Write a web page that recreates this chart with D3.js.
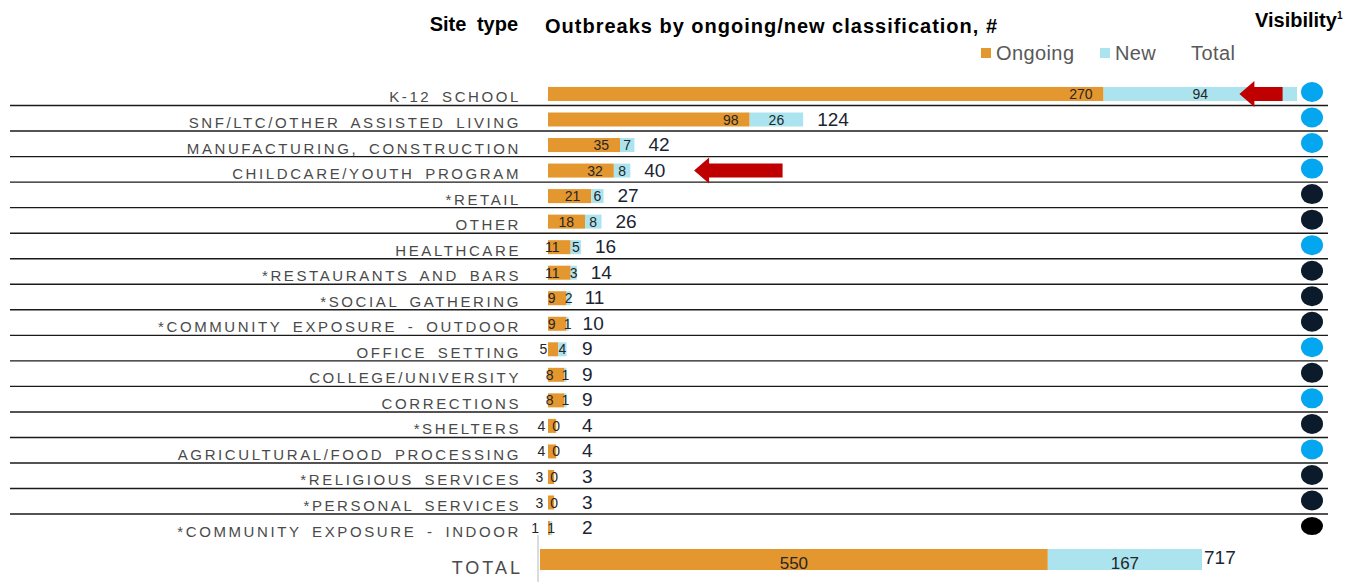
<!DOCTYPE html>
<meta charset="utf-8">
<head>
<script src="https://cdn.jsdelivr.net/npm/d3@7"></script>
<style>
  body { margin: 0; background: #fff; }
  svg { font-family: "Liberation Sans", Arial, sans-serif; display: block; }
</style>
</head>
<body>
<div id="outbreaks"></div>
<script>
  // site types, top to bottom
  const sites = [
    "K-12 SCHOOL", "SNF/LTC/OTHER ASSISTED LIVING", "MANUFACTURING, CONSTRUCTION",
    "CHILDCARE/YOUTH PROGRAM", "*RETAIL", "OTHER", "HEALTHCARE", "*RESTAURANTS AND BARS",
    "*SOCIAL GATHERING", "*COMMUNITY EXPOSURE - OUTDOOR", "OFFICE SETTING",
    "COLLEGE/UNIVERSITY", "CORRECTIONS", "*SHELTERS", "AGRICULTURAL/FOOD PROCESSING",
    "*RELIGIOUS SERVICES", "*PERSONAL SERVICES", "*COMMUNITY EXPOSURE - INDOOR"
  ];
  const ongoing = [270, 98, 35, 32, 21, 18, 11, 11, 9, 9, 5, 8, 8, 4, 4, 3, 3, 1];
  const newer   = [94, 26, 7, 8, 6, 8, 5, 3, 2, 1, 4, 1, 1, 0, 0, 0, 0, 1];
  // K-12 total is hidden behind the arrow in the source
  const totals  = [null, 124, 42, 40, 27, 26, 16, 14, 11, 10, 9, 9, 9, 4, 4, 3, 3, 2];
  // visibility marker: "high" = light blue, "low" = dark, "none" = black
  const visibility = ["high", "high", "high", "high", "low", "low", "high", "low", "low",
    "low", "high", "low", "high", "low", "high", "low", "low", "none"];
  const grandTotal = {ongoing: 550, newer: 167, total: 717};
  // arrows pointing at rows: [site, tip value, tail value]
  const arrows = [["K-12 SCHOOL", 336, 357], ["CHILDCARE/YOUTH PROGRAM", 71, 114]];

  const ORANGE = "#e4962f", CYAN = "#abe4ee", RED = "#c00000";
  const visColor = {high: "#05a6f0", low: "#0c1b2b", none: "#000"};

  const W = 1348, H = 582;
  const svg = d3.select("#outbreaks").append("svg")
    .attr("width", W).attr("height", H);

  const y = d3.scaleBand().domain(sites).range([81.2, 540.8]);
  const x = d3.scaleLinear().domain([0, 364]).range([548, 1297]);
  const xTot = d3.scaleLinear().domain([0, grandTotal.total]).range([540, 1202]);
  const barH = 14;
  const mid = d => y(d) + y.bandwidth() / 2;

  // headers
  svg.append("text").attr("x", 518).attr("y", 31).attr("text-anchor", "end")
    .attr("font-size", 20).attr("font-weight", "bold").attr("word-spacing", 5)
    .text("Site type");
  svg.append("text").attr("x", 545).attr("y", 33)
    .attr("font-size", 20).attr("font-weight", "bold")
    .attr("textLength", 452).attr("lengthAdjust", "spacing")
    .text("Outbreaks by ongoing/new classification, #");
  const vis = svg.append("text").attr("x", 1255).attr("y", 27)
    .attr("font-size", 20).attr("font-weight", "bold").text("Visibility");
  vis.append("tspan").attr("font-size", 10).attr("dy", -8).text("1");

  // legend
  const legend = [["Ongoing", ORANGE, 981], ["New", CYAN, 1100], ["Total", null, 1191]];
  legend.forEach(([name, col, lx]) => {
    if (col) svg.append("rect").attr("x", lx).attr("y", 48).attr("width", 10).attr("height", 10).attr("fill", col);
    svg.append("text").attr("x", col ? lx + 15 : lx).attr("y", 60)
      .attr("font-size", 20).attr("letter-spacing", 0.4).attr("fill", "#595959").text(name);
  });

  // row separators
  svg.selectAll("line.sep").data(sites.slice(0, -1)).join("line")
    .attr("class", "sep")
    .attr("x1", 10).attr("x2", 1328)
    .attr("y1", d => y(d) + y.bandwidth() - 1.2).attr("y2", d => y(d) + y.bandwidth() - 1.2)
    .attr("stroke", "#1a1a1a").attr("stroke-width", 1.4);

  // category labels
  svg.selectAll("text.cat").data(sites).join("text")
    .attr("class", "cat")
    .attr("x", 521).attr("y", d => mid(d) + 8.5)
    .attr("text-anchor", "end").attr("font-size", 15)
    .attr("letter-spacing", 2.6).attr("word-spacing", 4)
    .attr("fill", "#4a4a4a").text(d => d);

  const rows = sites.map((s, i) => ({s, o: ongoing[i], n: newer[i], t: totals[i], v: visibility[i]}));

  // bars
  svg.selectAll("rect.ong").data(rows).join("rect").attr("class", "ong")
    .attr("x", x(0)).attr("y", d => mid(d.s) - barH / 2)
    .attr("width", d => x(d.o) - x(0)).attr("height", barH).attr("fill", ORANGE);
  svg.selectAll("rect.new").data(rows).join("rect").attr("class", "new")
    .attr("x", d => x(d.o)).attr("y", d => mid(d.s) - barH / 2)
    .attr("width", d => x(d.o + d.n) - x(d.o)).attr("height", barH).attr("fill", CYAN);

  // segment labels
  svg.selectAll("text.ol").data(rows).join("text").attr("class", "ol")
    .attr("x", d => x(d.o) - 11).attr("y", d => mid(d.s) + 5)
    .attr("text-anchor", "end").attr("font-size", 14).attr("fill", "#262626")
    .text(d => d.o);
  svg.selectAll("text.nl").data(rows).join("text").attr("class", "nl")
    .attr("x", d => (x(d.o) + x(d.o + d.n)) / 2).attr("y", d => mid(d.s) + 5)
    .attr("text-anchor", "middle").attr("font-size", 14).attr("fill", "#262626")
    .text(d => d.n);

  // totals
  svg.selectAll("text.tl").data(rows.filter(d => d.t != null)).join("text").attr("class", "tl")
    .attr("x", d => Math.max(x(d.t) + 14, 582)).attr("y", d => mid(d.s) + 6)
    .attr("font-size", 19).attr("fill", "#1b2433")
    .text(d => d.t);

  // visibility dots
  svg.selectAll("ellipse.dot").data(rows).join("ellipse").attr("class", "dot")
    .attr("cx", 1312).attr("cy", d => mid(d.s) - 2)
    .attr("rx", 11).attr("ry", d => d.v === "none" ? 9 : 10)
    .attr("fill", d => visColor[d.v]);

  // arrows
  arrows.forEach(([s, tip, tail]) => {
    const cy = mid(s), x0 = x(tip), x1 = x(tail);
    svg.append("path")
      .attr("d", `M${x0},${cy} L${x0 + 15},${cy - 13} L${x0 + 15},${cy - 7} L${x1},${cy - 7}
                  L${x1},${cy + 7} L${x0 + 15},${cy + 7} L${x0 + 15},${cy + 13} Z`)
      .attr("fill", RED);
  });

  // total row
  const ty = 559.5, tH = 21;
  svg.append("line").attr("x1", 538).attr("x2", 538).attr("y1", 535).attr("y2", 582)
    .attr("stroke", "#d0d0d0").attr("stroke-width", 1.5);
  svg.append("text").attr("x", 523).attr("y", ty + 14).attr("text-anchor", "end")
    .attr("font-size", 18).attr("letter-spacing", 3).attr("fill", "#4a4a4a").text("TOTAL");
  svg.append("rect").attr("x", xTot(0)).attr("y", ty - tH / 2)
    .attr("width", xTot(grandTotal.ongoing) - xTot(0)).attr("height", tH).attr("fill", ORANGE);
  svg.append("rect").attr("x", xTot(grandTotal.ongoing)).attr("y", ty - tH / 2)
    .attr("width", xTot(grandTotal.total) - xTot(grandTotal.ongoing)).attr("height", tH).attr("fill", CYAN);
  svg.append("text").attr("x", (xTot(0) + xTot(grandTotal.ongoing)) / 2).attr("y", ty + 9)
    .attr("text-anchor", "middle").attr("font-size", 17).attr("fill", "#262626").text(grandTotal.ongoing);
  svg.append("text").attr("x", (xTot(grandTotal.ongoing) + xTot(grandTotal.total)) / 2).attr("y", ty + 9)
    .attr("text-anchor", "middle").attr("font-size", 17).attr("fill", "#262626").text(grandTotal.newer);
  svg.append("text").attr("x", xTot(grandTotal.total) + 2).attr("y", ty + 4)
    .attr("font-size", 19).attr("fill", "#1b2433").text(grandTotal.total);
</script>
</body>
